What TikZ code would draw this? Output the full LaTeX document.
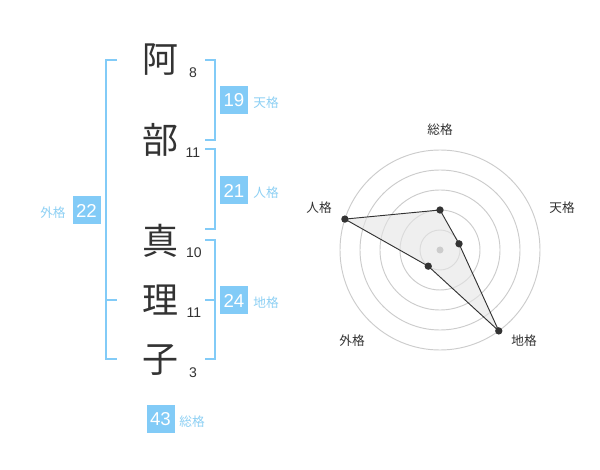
\documentclass[tikz,border=0pt]{standalone}
\usepackage{fontspec}
\usetikzlibrary{calc}
\setmainfont{Liberation Sans}
\newfontfamily\jp{Noto Sans CJK JP}
\definecolor{kblue}{HTML}{82CBF7}
\definecolor{labblue}{HTML}{8DD0F4}
\definecolor{ink}{HTML}{333333}
\definecolor{ringc}{HTML}{CCCCCC}
\begin{document}
\begin{tikzpicture}[x=0.75pt,y=-0.75pt,
  kanji/.style={font=\jp\fontsize{27}{27}\selectfont, text=ink, inner sep=0pt},
  strokenum/.style={font=\fontsize{10.5}{12}\selectfont, text=ink, inner sep=0pt},
  numbox/.style={fill=kblue, text=white, minimum size=21pt, inner sep=0pt, font=\fontsize{14}{14}\selectfont},
  lab/.style={font=\jp\fontsize{9.5}{10}\selectfont, text=labblue, inner sep=0pt},
  brk/.style={draw=kblue, line width=1.5pt},
  ring/.style={draw=ringc, line width=0.7pt},
  rlab/.style={font=\jp\fontsize{9.5}{10}\selectfont, text=ink, inner sep=0pt},
  dot/.style={circle, fill=ink, inner sep=0pt, minimum size=5.5pt}]
\useasboundingbox (0,0) rectangle (600,470);
\fill[white] (0,0) rectangle (600,470);

% kanji
\node[kanji] (k1) at (160,60) {阿};
\node[kanji] (k2) at (160,140) {部};
\node[kanji] (k3) at (160,241) {真};
\node[kanji] (k4) at (160,300) {理};
\node[kanji] (k5) at (160,360) {子};
% stroke counts
\node[strokenum] (s1) at (193,73) {8};
\node[strokenum] (s2) at (193,153) {11};
\node[strokenum] (s3) at (194,253) {10};
\node[strokenum] (s4) at (194,313) {11};
\node[strokenum] (s5) at (193,373) {3};

% brackets
\draw[brk] (117,60) -- (106,60) -- (106,359) -- (117,359);
\draw[brk] (106,300) -- (117,300);
\draw[brk] (205,60) -- (215,60) -- (215,140) -- (205,140);
\draw[brk] (205,149) -- (215,149) -- (215,229) -- (205,229);
\draw[brk] (205,240) -- (215,240) -- (215,359) -- (205,359);
\draw[brk] (205,300) -- (215,300);

% boxes and labels
\node[numbox] (b1) at (234,100) {19};
\node[lab] (l1) at (266,103) {天格};
\node[numbox] (b2) at (234,190.5) {21};
\node[lab] (l2) at (266,193) {人格};
\node[numbox] (b3) at (234,300.5) {24};
\node[lab] (l3) at (266,303) {地格};
\node[numbox] (b4) at (86.5,210.5) {22};
\node[lab] (l4) at (53,213) {外格};
\node[numbox] (b5) at (160.5,419) {43};
\node[lab] (l5) at (192,422) {総格};

% radar chart
\coordinate (c) at (440,250);
\foreach \r in {20,40,60,80,100} \draw[ring] (c) circle[radius=\r];
\coordinate (p1) at ($(c)+(-90:40)$);
\coordinate (p2) at ($(c)+(-18:20)$);
\coordinate (p3) at ($(c)+(54:100)$);
\coordinate (p4) at ($(c)+(126:20)$);
\coordinate (p5) at ($(c)+(198:100)$);
\fill[black!10, fill opacity=0.6] (p1) -- (p2) -- (p3) -- (p4) -- (p5) -- cycle;
\draw[ink, line width=0.7pt] (p1) -- (p2) -- (p3) -- (p4) -- (p5) -- cycle;
\fill[ringc] (c) circle[radius=3.5];
\foreach \p in {p1,p2,p3,p4,p5} \node[dot] at (\p) {};
\node[rlab] (r1) at (440,130) {総格};
\node[rlab] (r2) at (562,208) {天格};
\node[rlab] (r3) at (524,341) {地格};
\node[rlab] (r4) at (352,341) {外格};
\node[rlab] (r5) at (319,208) {人格};
\end{tikzpicture}
\end{document}
